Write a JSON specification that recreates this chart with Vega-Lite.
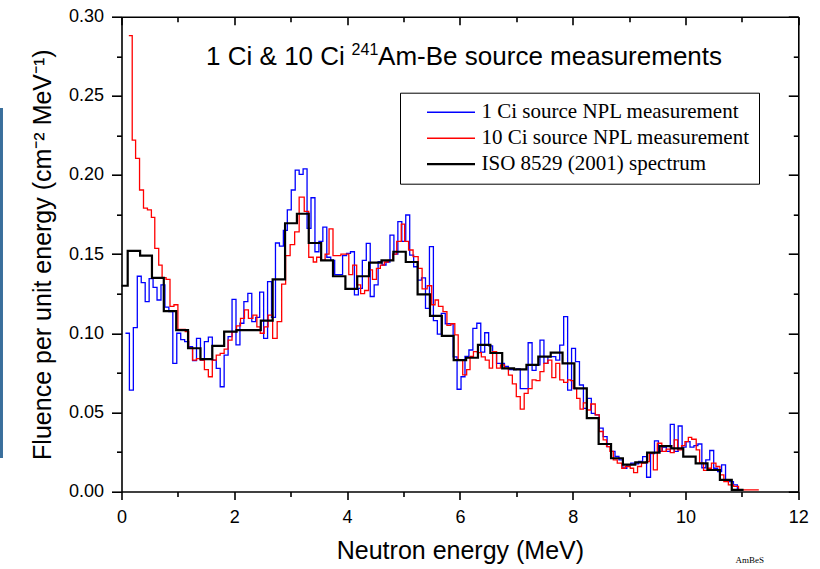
{
"$schema": "https://vega.github.io/schema/vega-lite/v6.json",
"width": 676.8, "height": 474.8,
"autosize": {"type": "none"},
"padding": {"left": 121.5, "top": 16.7, "right": 21.7, "bottom": 77.5},
"background": "white",
"config": {"view": {"stroke": null}, "font": "Liberation Sans",
  "axis": {"grid": false, "domainColor": "#000", "tickColor": "#000", "domainWidth": 1.6, "tickWidth": 1.6, "labelColor": "#000", "titleColor": "#000", "labelFlush": false, "labelOverlap": false}},
"datasets": {
"spec": [
{"s":"1 Ci source NPL measurement","e":0.07,"f":0.100},{"s":"1 Ci source NPL measurement","e":0.14,"f":0.064},{"s":"1 Ci source NPL measurement","e":0.21,"f":0.1035},{"s":"1 Ci source NPL measurement","e":0.28,"f":0.136},{"s":"1 Ci source NPL measurement","e":0.35,"f":0.132},{"s":"1 Ci source NPL measurement","e":0.42,"f":0.120},{"s":"1 Ci source NPL measurement","e":0.49,"f":0.1345},{"s":"1 Ci source NPL measurement","e":0.56,"f":0.129},{"s":"1 Ci source NPL measurement","e":0.63,"f":0.121},{"s":"1 Ci source NPL measurement","e":0.70,"f":0.1305},{"s":"1 Ci source NPL measurement","e":0.77,"f":0.1165},{"s":"1 Ci source NPL measurement","e":0.84,"f":0.1136},{"s":"1 Ci source NPL measurement","e":0.91,"f":0.081},{"s":"1 Ci source NPL measurement","e":0.98,"f":0.100},{"s":"1 Ci source NPL measurement","e":1.05,"f":0.096},{"s":"1 Ci source NPL measurement","e":1.12,"f":0.0947},{"s":"1 Ci source NPL measurement","e":1.19,"f":0.0915},{"s":"1 Ci source NPL measurement","e":1.26,"f":0.0827},{"s":"1 Ci source NPL measurement","e":1.33,"f":0.0968},{"s":"1 Ci source NPL measurement","e":1.40,"f":0.083},{"s":"1 Ci source NPL measurement","e":1.47,"f":0.0947},{"s":"1 Ci source NPL measurement","e":1.54,"f":0.0975},{"s":"1 Ci source NPL measurement","e":1.61,"f":0.083},{"s":"1 Ci source NPL measurement","e":1.68,"f":0.0778},{"s":"1 Ci source NPL measurement","e":1.75,"f":0.0662},{"s":"1 Ci source NPL measurement","e":1.82,"f":0.0862},{"s":"1 Ci source NPL measurement","e":1.89,"f":0.0978},{"s":"1 Ci source NPL measurement","e":1.96,"f":0.1214},{"s":"1 Ci source NPL measurement","e":2.03,"f":0.0926},{"s":"1 Ci source NPL measurement","e":2.10,"f":0.1063},{"s":"1 Ci source NPL measurement","e":2.17,"f":0.120},{"s":"1 Ci source NPL measurement","e":2.24,"f":0.1252},{"s":"1 Ci source NPL measurement","e":2.31,"f":0.1073},{"s":"1 Ci source NPL measurement","e":2.38,"f":0.110},{"s":"1 Ci source NPL measurement","e":2.45,"f":0.126},{"s":"1 Ci source NPL measurement","e":2.52,"f":0.0968},{"s":"1 Ci source NPL measurement","e":2.59,"f":0.1326},{"s":"1 Ci source NPL measurement","e":2.66,"f":0.110},{"s":"1 Ci source NPL measurement","e":2.73,"f":0.157},{"s":"1 Ci source NPL measurement","e":2.80,"f":0.155},{"s":"1 Ci source NPL measurement","e":2.87,"f":0.165},{"s":"1 Ci source NPL measurement","e":2.94,"f":0.178},{"s":"1 Ci source NPL measurement","e":3.01,"f":0.1905},{"s":"1 Ci source NPL measurement","e":3.08,"f":0.2031},{"s":"1 Ci source NPL measurement","e":3.15,"f":0.2004},{"s":"1 Ci source NPL measurement","e":3.22,"f":0.2038},{"s":"1 Ci source NPL measurement","e":3.29,"f":0.1663},{"s":"1 Ci source NPL measurement","e":3.36,"f":0.1856},{"s":"1 Ci source NPL measurement","e":3.43,"f":0.1515},{"s":"1 Ci source NPL measurement","e":3.50,"f":0.158},{"s":"1 Ci source NPL measurement","e":3.57,"f":0.167},{"s":"1 Ci source NPL measurement","e":3.64,"f":0.148},{"s":"1 Ci source NPL measurement","e":3.71,"f":0.146},{"s":"1 Ci source NPL measurement","e":3.78,"f":0.137},{"s":"1 Ci source NPL measurement","e":3.85,"f":0.137},{"s":"1 Ci source NPL measurement","e":3.92,"f":0.149},{"s":"1 Ci source NPL measurement","e":3.99,"f":0.1505},{"s":"1 Ci source NPL measurement","e":4.06,"f":0.1515},{"s":"1 Ci source NPL measurement","e":4.13,"f":0.1242},{"s":"1 Ci source NPL measurement","e":4.20,"f":0.1284},{"s":"1 Ci source NPL measurement","e":4.27,"f":0.146},{"s":"1 Ci source NPL measurement","e":4.34,"f":0.1568},{"s":"1 Ci source NPL measurement","e":4.41,"f":0.1232},{"s":"1 Ci source NPL measurement","e":4.48,"f":0.1305},{"s":"1 Ci source NPL measurement","e":4.55,"f":0.1452},{"s":"1 Ci source NPL measurement","e":4.62,"f":0.1431},{"s":"1 Ci source NPL measurement","e":4.69,"f":0.145},{"s":"1 Ci source NPL measurement","e":4.76,"f":0.162},{"s":"1 Ci source NPL measurement","e":4.83,"f":0.150},{"s":"1 Ci source NPL measurement","e":4.90,"f":0.1705},{"s":"1 Ci source NPL measurement","e":4.97,"f":0.158},{"s":"1 Ci source NPL measurement","e":5.04,"f":0.1747},{"s":"1 Ci source NPL measurement","e":5.11,"f":0.1494},{"s":"1 Ci source NPL measurement","e":5.18,"f":0.142},{"s":"1 Ci source NPL measurement","e":5.25,"f":0.1336},{"s":"1 Ci source NPL measurement","e":5.32,"f":0.135},{"s":"1 Ci source NPL measurement","e":5.39,"f":0.1157},{"s":"1 Ci source NPL measurement","e":5.46,"f":0.1547},{"s":"1 Ci source NPL measurement","e":5.53,"f":0.108},{"s":"1 Ci source NPL measurement","e":5.60,"f":0.0995},{"s":"1 Ci source NPL measurement","e":5.67,"f":0.1126},{"s":"1 Ci source NPL measurement","e":5.74,"f":0.106},{"s":"1 Ci source NPL measurement","e":5.81,"f":0.106},{"s":"1 Ci source NPL measurement","e":5.88,"f":0.085},{"s":"1 Ci source NPL measurement","e":5.95,"f":0.0646},{"s":"1 Ci source NPL measurement","e":6.02,"f":0.0725},{"s":"1 Ci source NPL measurement","e":6.09,"f":0.0853},{"s":"1 Ci source NPL measurement","e":6.16,"f":0.0894},{"s":"1 Ci source NPL measurement","e":6.23,"f":0.1031},{"s":"1 Ci source NPL measurement","e":6.30,"f":0.1063},{"s":"1 Ci source NPL measurement","e":6.37,"f":0.088},{"s":"1 Ci source NPL measurement","e":6.44,"f":0.1003},{"s":"1 Ci source NPL measurement","e":6.51,"f":0.092},{"s":"1 Ci source NPL measurement","e":6.58,"f":0.088},{"s":"1 Ci source NPL measurement","e":6.65,"f":0.081},{"s":"1 Ci source NPL measurement","e":6.72,"f":0.081},{"s":"1 Ci source NPL measurement","e":6.79,"f":0.079},{"s":"1 Ci source NPL measurement","e":6.86,"f":0.077},{"s":"1 Ci source NPL measurement","e":6.93,"f":0.077},{"s":"1 Ci source NPL measurement","e":7.00,"f":0.0775},{"s":"1 Ci source NPL measurement","e":7.07,"f":0.065},{"s":"1 Ci source NPL measurement","e":7.14,"f":0.065},{"s":"1 Ci source NPL measurement","e":7.21,"f":0.094},{"s":"1 Ci source NPL measurement","e":7.28,"f":0.0765},{"s":"1 Ci source NPL measurement","e":7.35,"f":0.080},{"s":"1 Ci source NPL measurement","e":7.42,"f":0.0957},{"s":"1 Ci source NPL measurement","e":7.49,"f":0.081},{"s":"1 Ci source NPL measurement","e":7.56,"f":0.0852},{"s":"1 Ci source NPL measurement","e":7.63,"f":0.0852},{"s":"1 Ci source NPL measurement","e":7.70,"f":0.083},{"s":"1 Ci source NPL measurement","e":7.77,"f":0.0925},{"s":"1 Ci source NPL measurement","e":7.84,"f":0.1105},{"s":"1 Ci source NPL measurement","e":7.91,"f":0.064},{"s":"1 Ci source NPL measurement","e":7.98,"f":0.0904},{"s":"1 Ci source NPL measurement","e":8.05,"f":0.082},{"s":"1 Ci source NPL measurement","e":8.12,"f":0.0673},{"s":"1 Ci source NPL measurement","e":8.19,"f":0.0525},{"s":"1 Ci source NPL measurement","e":8.26,"f":0.0589},{"s":"1 Ci source NPL measurement","e":8.33,"f":0.0494},{"s":"1 Ci source NPL measurement","e":8.40,"f":0.0484},{"s":"1 Ci source NPL measurement","e":8.47,"f":0.040},{"s":"1 Ci source NPL measurement","e":8.54,"f":0.0347},{"s":"1 Ci source NPL measurement","e":8.61,"f":0.0284},{"s":"1 Ci source NPL measurement","e":8.68,"f":0.0253},{"s":"1 Ci source NPL measurement","e":8.75,"f":0.0221},{"s":"1 Ci source NPL measurement","e":8.82,"f":0.020},{"s":"1 Ci source NPL measurement","e":8.89,"f":0.0147},{"s":"1 Ci source NPL measurement","e":8.96,"f":0.0168},{"s":"1 Ci source NPL measurement","e":9.03,"f":0.0179},{"s":"1 Ci source NPL measurement","e":9.10,"f":0.0175},{"s":"1 Ci source NPL measurement","e":9.17,"f":0.019},{"s":"1 Ci source NPL measurement","e":9.24,"f":0.022},{"s":"1 Ci source NPL measurement","e":9.31,"f":0.009},{"s":"1 Ci source NPL measurement","e":9.38,"f":0.024},{"s":"1 Ci source NPL measurement","e":9.45,"f":0.032},{"s":"1 Ci source NPL measurement","e":9.52,"f":0.0253},{"s":"1 Ci source NPL measurement","e":9.59,"f":0.028},{"s":"1 Ci source NPL measurement","e":9.66,"f":0.0253},{"s":"1 Ci source NPL measurement","e":9.73,"f":0.0424},{"s":"1 Ci source NPL measurement","e":9.80,"f":0.0253},{"s":"1 Ci source NPL measurement","e":9.87,"f":0.0414},{"s":"1 Ci source NPL measurement","e":9.94,"f":0.028},{"s":"1 Ci source NPL measurement","e":10.01,"f":0.0315},{"s":"1 Ci source NPL measurement","e":10.08,"f":0.028},{"s":"1 Ci source NPL measurement","e":10.15,"f":0.029},{"s":"1 Ci source NPL measurement","e":10.22,"f":0.030},{"s":"1 Ci source NPL measurement","e":10.29,"f":0.015},{"s":"1 Ci source NPL measurement","e":10.36,"f":0.020},{"s":"1 Ci source NPL measurement","e":10.43,"f":0.0259},{"s":"1 Ci source NPL measurement","e":10.50,"f":0.0147},{"s":"1 Ci source NPL measurement","e":10.57,"f":0.0126},{"s":"1 Ci source NPL measurement","e":10.64,"f":0.0168},{"s":"1 Ci source NPL measurement","e":10.71,"f":0.0073},{"s":"1 Ci source NPL measurement","e":10.78,"f":0.0063},{"s":"1 Ci source NPL measurement","e":10.85,"f":0.0042},{"s":"1 Ci source NPL measurement","e":10.92,"f":0.001},{"s":"1 Ci source NPL measurement","e":10.99,"f":0.001},
{"s":"10 Ci source NPL measurement","e":0.13,"f":0.288},{"s":"10 Ci source NPL measurement","e":0.19,"f":0.222},{"s":"10 Ci source NPL measurement","e":0.25,"f":0.2105},{"s":"10 Ci source NPL measurement","e":0.32,"f":0.1905},{"s":"10 Ci source NPL measurement","e":0.39,"f":0.179},{"s":"10 Ci source NPL measurement","e":0.46,"f":0.178},{"s":"10 Ci source NPL measurement","e":0.53,"f":0.1732},{"s":"10 Ci source NPL measurement","e":0.59,"f":0.1536},{"s":"10 Ci source NPL measurement","e":0.66,"f":0.143},{"s":"10 Ci source NPL measurement","e":0.72,"f":0.1351},{"s":"10 Ci source NPL measurement","e":0.79,"f":0.134},{"s":"10 Ci source NPL measurement","e":0.86,"f":0.117},{"s":"10 Ci source NPL measurement","e":0.93,"f":0.118},{"s":"10 Ci source NPL measurement","e":1.00,"f":0.1025},{"s":"10 Ci source NPL measurement","e":1.07,"f":0.1025},{"s":"10 Ci source NPL measurement","e":1.13,"f":0.101},{"s":"10 Ci source NPL measurement","e":1.19,"f":0.0905},{"s":"10 Ci source NPL measurement","e":1.26,"f":0.083},{"s":"10 Ci source NPL measurement","e":1.33,"f":0.084},{"s":"10 Ci source NPL measurement","e":1.40,"f":0.083},{"s":"10 Ci source NPL measurement","e":1.47,"f":0.077},{"s":"10 Ci source NPL measurement","e":1.54,"f":0.0725},{"s":"10 Ci source NPL measurement","e":1.61,"f":0.083},{"s":"10 Ci source NPL measurement","e":1.68,"f":0.0862},{"s":"10 Ci source NPL measurement","e":1.75,"f":0.0873},{"s":"10 Ci source NPL measurement","e":1.82,"f":0.090},{"s":"10 Ci source NPL measurement","e":1.89,"f":0.0957},{"s":"10 Ci source NPL measurement","e":1.96,"f":0.101},{"s":"10 Ci source NPL measurement","e":2.04,"f":0.1046},{"s":"10 Ci source NPL measurement","e":2.11,"f":0.1094},{"s":"10 Ci source NPL measurement","e":2.18,"f":0.1147},{"s":"10 Ci source NPL measurement","e":2.25,"f":0.1094},{"s":"10 Ci source NPL measurement","e":2.33,"f":0.1115},{"s":"10 Ci source NPL measurement","e":2.40,"f":0.104},{"s":"10 Ci source NPL measurement","e":2.46,"f":0.100},{"s":"10 Ci source NPL measurement","e":2.53,"f":0.104},{"s":"10 Ci source NPL measurement","e":2.60,"f":0.1115},{"s":"10 Ci source NPL measurement","e":2.68,"f":0.0968},{"s":"10 Ci source NPL measurement","e":2.76,"f":0.1073},{"s":"10 Ci source NPL measurement","e":2.84,"f":0.131},{"s":"10 Ci source NPL measurement","e":2.91,"f":0.149},{"s":"10 Ci source NPL measurement","e":2.99,"f":0.156},{"s":"10 Ci source NPL measurement","e":3.07,"f":0.164},{"s":"10 Ci source NPL measurement","e":3.15,"f":0.186},{"s":"10 Ci source NPL measurement","e":3.24,"f":0.177},{"s":"10 Ci source NPL measurement","e":3.32,"f":0.148},{"s":"10 Ci source NPL measurement","e":3.40,"f":0.145},{"s":"10 Ci source NPL measurement","e":3.46,"f":0.148},{"s":"10 Ci source NPL measurement","e":3.53,"f":0.146},{"s":"10 Ci source NPL measurement","e":3.61,"f":0.150},{"s":"10 Ci source NPL measurement","e":3.68,"f":0.166},{"s":"10 Ci source NPL measurement","e":3.75,"f":0.149},{"s":"10 Ci source NPL measurement","e":3.82,"f":0.149},{"s":"10 Ci source NPL measurement","e":3.89,"f":0.150},{"s":"10 Ci source NPL measurement","e":3.96,"f":0.150},{"s":"10 Ci source NPL measurement","e":4.03,"f":0.137},{"s":"10 Ci source NPL measurement","e":4.10,"f":0.143},{"s":"10 Ci source NPL measurement","e":4.17,"f":0.1305},{"s":"10 Ci source NPL measurement","e":4.24,"f":0.125},{"s":"10 Ci source NPL measurement","e":4.31,"f":0.127},{"s":"10 Ci source NPL measurement","e":4.38,"f":0.140},{"s":"10 Ci source NPL measurement","e":4.45,"f":0.134},{"s":"10 Ci source NPL measurement","e":4.52,"f":0.141},{"s":"10 Ci source NPL measurement","e":4.59,"f":0.143},{"s":"10 Ci source NPL measurement","e":4.66,"f":0.145},{"s":"10 Ci source NPL measurement","e":4.73,"f":0.146},{"s":"10 Ci source NPL measurement","e":4.81,"f":0.150},{"s":"10 Ci source NPL measurement","e":4.88,"f":0.158},{"s":"10 Ci source NPL measurement","e":4.96,"f":0.169},{"s":"10 Ci source NPL measurement","e":5.02,"f":0.158},{"s":"10 Ci source NPL measurement","e":5.09,"f":0.1526},{"s":"10 Ci source NPL measurement","e":5.17,"f":0.1484},{"s":"10 Ci source NPL measurement","e":5.26,"f":0.141},{"s":"10 Ci source NPL measurement","e":5.33,"f":0.128},{"s":"10 Ci source NPL measurement","e":5.42,"f":0.130},{"s":"10 Ci source NPL measurement","e":5.50,"f":0.118},{"s":"10 Ci source NPL measurement","e":5.56,"f":0.121},{"s":"10 Ci source NPL measurement","e":5.62,"f":0.117},{"s":"10 Ci source NPL measurement","e":5.70,"f":0.1136},{"s":"10 Ci source NPL measurement","e":5.77,"f":0.105},{"s":"10 Ci source NPL measurement","e":5.84,"f":0.106},{"s":"10 Ci source NPL measurement","e":5.91,"f":0.0989},{"s":"10 Ci source NPL measurement","e":5.97,"f":0.083},{"s":"10 Ci source NPL measurement","e":6.05,"f":0.0737},{"s":"10 Ci source NPL measurement","e":6.12,"f":0.077},{"s":"10 Ci source NPL measurement","e":6.18,"f":0.0853},{"s":"10 Ci source NPL measurement","e":6.24,"f":0.0884},{"s":"10 Ci source NPL measurement","e":6.31,"f":0.0878},{"s":"10 Ci source NPL measurement","e":6.38,"f":0.085},{"s":"10 Ci source NPL measurement","e":6.45,"f":0.083},{"s":"10 Ci source NPL measurement","e":6.52,"f":0.0779},{"s":"10 Ci source NPL measurement","e":6.58,"f":0.0884},{"s":"10 Ci source NPL measurement","e":6.65,"f":0.0779},{"s":"10 Ci source NPL measurement","e":6.72,"f":0.080},{"s":"10 Ci source NPL measurement","e":6.79,"f":0.078},{"s":"10 Ci source NPL measurement","e":6.86,"f":0.0735},{"s":"10 Ci source NPL measurement","e":6.93,"f":0.068},{"s":"10 Ci source NPL measurement","e":7.00,"f":0.060},{"s":"10 Ci source NPL measurement","e":7.07,"f":0.052},{"s":"10 Ci source NPL measurement","e":7.14,"f":0.062},{"s":"10 Ci source NPL measurement","e":7.21,"f":0.065},{"s":"10 Ci source NPL measurement","e":7.28,"f":0.0705},{"s":"10 Ci source NPL measurement","e":7.35,"f":0.070},{"s":"10 Ci source NPL measurement","e":7.42,"f":0.0757},{"s":"10 Ci source NPL measurement","e":7.49,"f":0.081},{"s":"10 Ci source NPL measurement","e":7.56,"f":0.083},{"s":"10 Ci source NPL measurement","e":7.63,"f":0.072},{"s":"10 Ci source NPL measurement","e":7.70,"f":0.081},{"s":"10 Ci source NPL measurement","e":7.77,"f":0.0705},{"s":"10 Ci source NPL measurement","e":7.84,"f":0.069},{"s":"10 Ci source NPL measurement","e":7.91,"f":0.0705},{"s":"10 Ci source NPL measurement","e":7.96,"f":0.070},{"s":"10 Ci source NPL measurement","e":8.01,"f":0.0652},{"s":"10 Ci source NPL measurement","e":8.07,"f":0.0589},{"s":"10 Ci source NPL measurement","e":8.13,"f":0.052},{"s":"10 Ci source NPL measurement","e":8.19,"f":0.056},{"s":"10 Ci source NPL measurement","e":8.25,"f":0.0515},{"s":"10 Ci source NPL measurement","e":8.32,"f":0.0553},{"s":"10 Ci source NPL measurement","e":8.40,"f":0.0484},{"s":"10 Ci source NPL measurement","e":8.47,"f":0.0379},{"s":"10 Ci source NPL measurement","e":8.54,"f":0.0326},{"s":"10 Ci source NPL measurement","e":8.60,"f":0.0284},{"s":"10 Ci source NPL measurement","e":8.66,"f":0.0253},{"s":"10 Ci source NPL measurement","e":8.72,"f":0.020},{"s":"10 Ci source NPL measurement","e":8.79,"f":0.0179},{"s":"10 Ci source NPL measurement","e":8.87,"f":0.0147},{"s":"10 Ci source NPL measurement","e":8.93,"f":0.0158},{"s":"10 Ci source NPL measurement","e":9.02,"f":0.0147},{"s":"10 Ci source NPL measurement","e":9.08,"f":0.0119},{"s":"10 Ci source NPL measurement","e":9.15,"f":0.0158},{"s":"10 Ci source NPL measurement","e":9.22,"f":0.0179},{"s":"10 Ci source NPL measurement","e":9.30,"f":0.0189},{"s":"10 Ci source NPL measurement","e":9.36,"f":0.0242},{"s":"10 Ci source NPL measurement","e":9.43,"f":0.0137},{"s":"10 Ci source NPL measurement","e":9.50,"f":0.0305},{"s":"10 Ci source NPL measurement","e":9.58,"f":0.0253},{"s":"10 Ci source NPL measurement","e":9.66,"f":0.0268},{"s":"10 Ci source NPL measurement","e":9.73,"f":0.0246},{"s":"10 Ci source NPL measurement","e":9.80,"f":0.0326},{"s":"10 Ci source NPL measurement","e":9.86,"f":0.0263},{"s":"10 Ci source NPL measurement","e":9.93,"f":0.029},{"s":"10 Ci source NPL measurement","e":9.99,"f":0.0315},{"s":"10 Ci source NPL measurement","e":10.05,"f":0.0342},{"s":"10 Ci source NPL measurement","e":10.11,"f":0.033},{"s":"10 Ci source NPL measurement","e":10.19,"f":0.0263},{"s":"10 Ci source NPL measurement","e":10.25,"f":0.0179},{"s":"10 Ci source NPL measurement","e":10.32,"f":0.0133},{"s":"10 Ci source NPL measurement","e":10.39,"f":0.0147},{"s":"10 Ci source NPL measurement","e":10.46,"f":0.0179},{"s":"10 Ci source NPL measurement","e":10.54,"f":0.0158},{"s":"10 Ci source NPL measurement","e":10.61,"f":0.0105},{"s":"10 Ci source NPL measurement","e":10.68,"f":0.0063},{"s":"10 Ci source NPL measurement","e":10.76,"f":0.0042},{"s":"10 Ci source NPL measurement","e":10.85,"f":0.0032},{"s":"10 Ci source NPL measurement","e":10.94,"f":0.001},{"s":"10 Ci source NPL measurement","e":11.30,"f":0.001},
{"s":"ISO 8529 (2001) spectrum","e":0,"f":0.130},{"s":"ISO 8529 (2001) spectrum","e":0.11,"f":0.152},{"s":"ISO 8529 (2001) spectrum","e":0.33,"f":0.149},{"s":"ISO 8529 (2001) spectrum","e":0.54,"f":0.135},{"s":"ISO 8529 (2001) spectrum","e":0.75,"f":0.114},{"s":"ISO 8529 (2001) spectrum","e":0.97,"f":0.102},{"s":"ISO 8529 (2001) spectrum","e":1.18,"f":0.0905},{"s":"ISO 8529 (2001) spectrum","e":1.40,"f":0.0837},{"s":"ISO 8529 (2001) spectrum","e":1.61,"f":0.092},{"s":"ISO 8529 (2001) spectrum","e":1.82,"f":0.101},{"s":"ISO 8529 (2001) spectrum","e":2.04,"f":0.102},{"s":"ISO 8529 (2001) spectrum","e":2.25,"f":0.102},{"s":"ISO 8529 (2001) spectrum","e":2.47,"f":0.108},{"s":"ISO 8529 (2001) spectrum","e":2.68,"f":0.134},{"s":"ISO 8529 (2001) spectrum","e":2.90,"f":0.1695},{"s":"ISO 8529 (2001) spectrum","e":3.11,"f":0.1755},{"s":"ISO 8529 (2001) spectrum","e":3.32,"f":0.157},{"s":"ISO 8529 (2001) spectrum","e":3.54,"f":0.146},{"s":"ISO 8529 (2001) spectrum","e":3.75,"f":0.136},{"s":"ISO 8529 (2001) spectrum","e":3.97,"f":0.128},{"s":"ISO 8529 (2001) spectrum","e":4.18,"f":0.136},{"s":"ISO 8529 (2001) spectrum","e":4.39,"f":0.1446},{"s":"ISO 8529 (2001) spectrum","e":4.61,"f":0.146},{"s":"ISO 8529 (2001) spectrum","e":4.82,"f":0.1515},{"s":"ISO 8529 (2001) spectrum","e":5.04,"f":0.145},{"s":"ISO 8529 (2001) spectrum","e":5.25,"f":0.1246},{"s":"ISO 8529 (2001) spectrum","e":5.47,"f":0.111},{"s":"ISO 8529 (2001) spectrum","e":5.68,"f":0.0983},{"s":"ISO 8529 (2001) spectrum","e":5.89,"f":0.083},{"s":"ISO 8529 (2001) spectrum","e":6.11,"f":0.0845},{"s":"ISO 8529 (2001) spectrum","e":6.32,"f":0.0926},{"s":"ISO 8529 (2001) spectrum","e":6.54,"f":0.0875},{"s":"ISO 8529 (2001) spectrum","e":6.75,"f":0.0778},{"s":"ISO 8529 (2001) spectrum","e":6.96,"f":0.0772},{"s":"ISO 8529 (2001) spectrum","e":7.18,"f":0.080},{"s":"ISO 8529 (2001) spectrum","e":7.39,"f":0.0852},{"s":"ISO 8529 (2001) spectrum","e":7.61,"f":0.0877},{"s":"ISO 8529 (2001) spectrum","e":7.82,"f":0.081},{"s":"ISO 8529 (2001) spectrum","e":8.03,"f":0.0652},{"s":"ISO 8529 (2001) spectrum","e":8.25,"f":0.0463},{"s":"ISO 8529 (2001) spectrum","e":8.46,"f":0.030},{"s":"ISO 8529 (2001) spectrum","e":8.68,"f":0.021},{"s":"ISO 8529 (2001) spectrum","e":8.89,"f":0.017},{"s":"ISO 8529 (2001) spectrum","e":9.11,"f":0.0184},{"s":"ISO 8529 (2001) spectrum","e":9.32,"f":0.0245},{"s":"ISO 8529 (2001) spectrum","e":9.54,"f":0.0287},{"s":"ISO 8529 (2001) spectrum","e":9.75,"f":0.0273},{"s":"ISO 8529 (2001) spectrum","e":9.96,"f":0.022},{"s":"ISO 8529 (2001) spectrum","e":10.18,"f":0.0178},{"s":"ISO 8529 (2001) spectrum","e":10.39,"f":0.0136},{"s":"ISO 8529 (2001) spectrum","e":10.61,"f":0.0073},{"s":"ISO 8529 (2001) spectrum","e":10.82,"f":0.001},{"s":"ISO 8529 (2001) spectrum","e":11.03,"f":0.001}
],
"one": [{}]
},
"data": {"name": "spec"},
"layer": [
{
 "mark": {"type": "line", "interpolate": "step-after"},
 "encoding": {
  "x": {"field": "e", "type": "quantitative", "scale": {"domain": [0, 12], "nice": false, "zero": false},
        "axis": {"orient": "bottom", "values": [0,2,4,6,8,10,12], "tickSize": 8, "labelFont": "Liberation Sans", "labelFontSize": 18, "labelPadding": 9, "title": "Neutron energy (MeV)", "titleFont": "Liberation Sans", "titleFontSize": 25, "titleFontWeight": "normal", "titlePadding": 12}},
  "y": {"field": "f", "type": "quantitative", "scale": {"domain": [0, 0.3], "nice": false, "zero": false},
        "axis": {"orient": "left", "values": [0,0.05,0.1,0.15,0.2,0.25,0.3], "format": ".2f", "tickSize": 10, "labelFont": "Liberation Sans", "labelFontSize": 18, "labelPadding": 8, "title": "Fluence per unit energy (cm⁻² MeV⁻¹)", "titleFont": "Liberation Sans", "titleFontSize": 25, "titleFontWeight": "normal", "titlePadding": 13}},
  "color": {"field": "s", "type": "nominal",
    "scale": {"domain": ["1 Ci source NPL measurement", "10 Ci source NPL measurement", "ISO 8529 (2001) spectrum"], "range": ["#0000ff", "#ff0000", "#000000"]},
    "legend": {"title": null, "orient": "none", "legendX": 278.5, "legendY": 76, "strokeColor": "#000", "fillColor": "#fff", "padding": 9, "symbolType": "M-2,0H2", "symbolSize": 576, "symbolOffset": 31.5, "labelOffset": 20, "symbolStrokeWidth": 1.4, "labelFont": "Liberation Serif", "labelFontSize": 21, "labelColor": "#000", "rowPadding": 4, "labelLimit": 400,
      "encode": {"symbols": {"update": {"strokeWidth": {"signal": "datum.label === 'ISO 8529 (2001) spectrum' ? 2.2 : 1.4"}}}}}},
  "strokeWidth": {"condition": {"test": "datum.s === 'ISO 8529 (2001) spectrum'", "value": 2.2}, "value": 1.3}
 }
},
{
 "data": {"name": "one"},
 "mark": {"type": "text", "align": "right", "baseline": "alphabetic", "font": "Liberation Sans", "fontSize": 26, "color": "#000"},
 "encoding": {
  "x": {"datum": 3.96, "type": "quantitative", "scale": {"domain": [0, 12], "nice": false, "zero": false},
        "axis": {"orient": "top", "values": [0,2,4,6,8,10,12], "tickSize": -8, "labels": false, "title": null}},
  "y": {"datum": 0.2697, "type": "quantitative", "scale": {"domain": [0, 0.3], "nice": false, "zero": false},
        "axis": {"orient": "right", "values": [0,0.05,0.1,0.15,0.2,0.25,0.3], "tickSize": -10, "labels": false, "title": null}},
  "text": {"value": "1 Ci & 10 Ci"}
 }
},
{
 "data": {"name": "one"},
 "mark": {"type": "text", "align": "left", "baseline": "alphabetic", "font": "Liberation Sans", "fontSize": 16, "color": "#000"},
 "encoding": {
  "x": {"datum": 4.08, "type": "quantitative", "scale": {"domain": [0, 12], "nice": false, "zero": false},
        "axis": {"orient": "bottom", "values": [1,3,5,7,9,11], "tickSize": 5, "labels": false, "domain": false, "title": null}},
  "y": {"datum": 0.276, "type": "quantitative", "scale": {"domain": [0, 0.3], "nice": false, "zero": false},
        "axis": {"orient": "left", "values": [0.025,0.075,0.125,0.175,0.225,0.275], "tickSize": 5, "labels": false, "domain": false, "title": null}},
  "text": {"value": "241"}
 }
},
{
 "data": {"name": "one"},
 "mark": {"type": "text", "align": "left", "baseline": "alphabetic", "font": "Liberation Sans", "fontSize": 26, "color": "#000"},
 "encoding": {
  "x": {"datum": 4.55, "type": "quantitative", "scale": {"domain": [0, 12], "nice": false, "zero": false},
        "axis": {"orient": "top", "values": [1,3,5,7,9,11], "tickSize": -5, "labels": false, "domain": false, "title": null}},
  "y": {"datum": 0.2697, "type": "quantitative", "scale": {"domain": [0, 0.3], "nice": false, "zero": false},
        "axis": {"orient": "right", "values": [0.025,0.075,0.125,0.175,0.225,0.275], "tickSize": -5, "labels": false, "domain": false, "title": null}},
  "text": {"value": "Am-Be source measurements"}
 }
},
{
 "data": {"name": "one"},
 "mark": {"type": "text", "align": "center", "baseline": "middle", "font": "Liberation Serif", "fontSize": 9, "color": "#000"},
 "encoding": {
  "x": {"datum": 11.14, "type": "quantitative", "scale": {"domain": [0, 12], "nice": false, "zero": false}, "axis": null},
  "y": {"datum": -0.0433, "type": "quantitative", "scale": {"domain": [0, 0.3], "nice": false, "zero": false}, "axis": null},
  "text": {"value": "AmBeS"}
 }
},
{
 "data": {"name": "one"},
 "mark": {"type": "rule", "color": "#3a6f9c", "strokeWidth": 3},
 "encoding": {
  "x": {"datum": -2.128, "type": "quantitative", "scale": {"domain": [0, 12], "nice": false, "zero": false}, "axis": null},
  "y": {"datum": 0.2423, "type": "quantitative", "scale": {"domain": [0, 0.3], "nice": false, "zero": false}, "axis": null},
  "y2": {"datum": 0.0212}
 }
}
],
"resolve": {"axis": {"x": "independent", "y": "independent"}}
}
